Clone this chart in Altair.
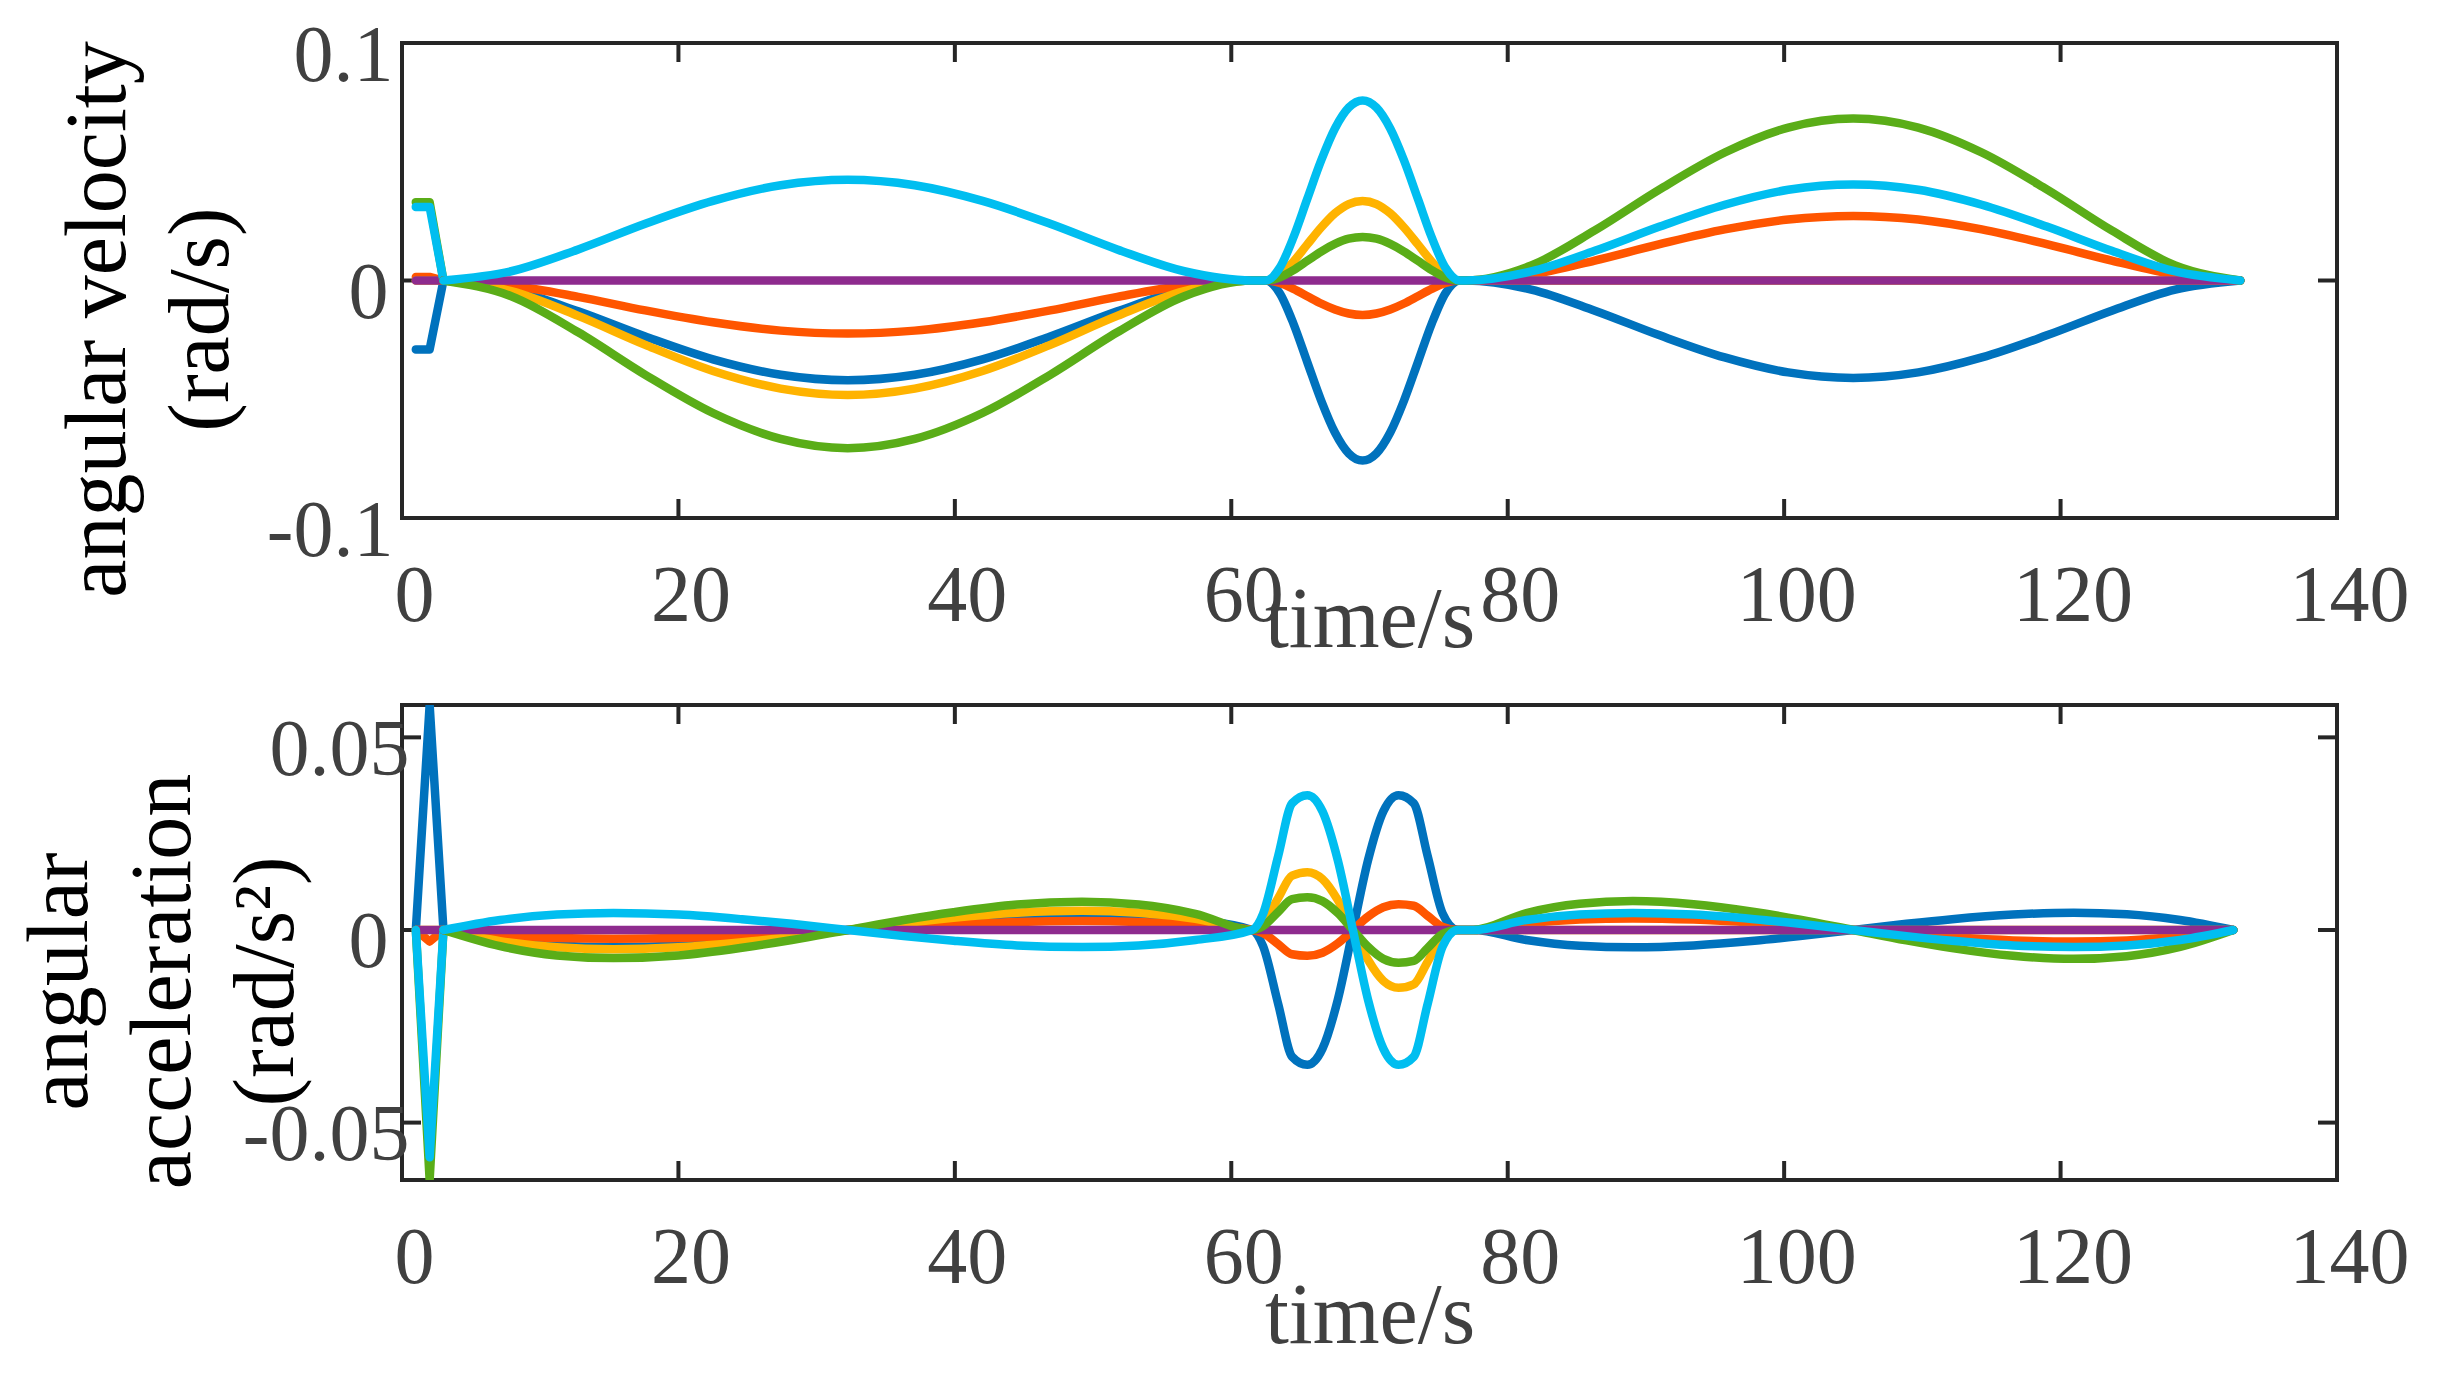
import altair as alt
import pandas as pd

SERIES = ["s1", "s2", "s3", "s4", "s5", "s6"]
COLORS = ["#0072BD", "#FF5500", "#FFB300", "#8E2B8E", "#5AAD18", "#00BEF0"]

X_TICKS = [0, 20, 40, 60, 80, 100, 120, 140]
VEL_TICKS = [-0.1, 0, 0.1]
ACC_TICKS = [-0.05, 0, 0.05]
VEL_DOMAIN = [-0.1, 0.1]
ACC_DOMAIN = [-0.0649, 0.0584]

TIME_VEL = [1, 2, 3, 7.9, 12.75, 17.6, 22.5, 27.4, 32.25, 37.1, 42, 46.9, 51.75, 56.6, 61.5,
            62.5, 63.5, 64.5, 65.5, 66.5, 67.5, 68.5, 69.5, 70.5, 71.5, 72.5, 73.5, 74.5, 75.5, 76.5,
            77, 81.7, 86.3, 91, 95.7, 100.3, 105, 109.7, 114.3, 119, 123.7, 128.3, 133]

VEL_BLUE = [-0.029, -0.029,
            0, -0.0039, -0.0130, -0.0236, -0.0332, -0.0397, -0.0420, -0.0397, -0.0332, -0.0236, -0.0130, -0.0039, 0,
            0, -0.0053, -0.0182, -0.0344, -0.0505, -0.0640, -0.0728, -0.0758, -0.0728, -0.0640, -0.0505, -0.0344, -0.0182, -0.0053, 0,
            0, -0.0038, -0.0127, -0.0231, -0.0324, -0.0387, -0.0410, -0.0387, -0.0324, -0.0231, -0.0127, -0.0038, 0]
VEL_ORANGE = [0.0015, 0.0015,
              0, -0.0021, -0.0069, -0.0126, -0.0176, -0.0211, -0.0223, -0.0211, -0.0176, -0.0126, -0.0069, -0.0021, 0,
              0, -0.0010, -0.0035, -0.0066, -0.0097, -0.0122, -0.0139, -0.0145, -0.0139, -0.0122, -0.0097, -0.0066, -0.0035, -0.0010, 0,
              0, 0.0025, 0.0084, 0.0153, 0.0215, 0.0257, 0.0272, 0.0257, 0.0215, 0.0153, 0.0084, 0.0025, 0]
VEL_YELLOW = [0, 0,
              0, -0.0045, -0.0149, -0.0271, -0.0381, -0.0455, -0.0482, -0.0455, -0.0381, -0.0271, -0.0149, -0.0045, 0,
              0, 0.0023, 0.0080, 0.0152, 0.0223, 0.0283, 0.0322, 0.0335, 0.0322, 0.0283, 0.0223, 0.0152, 0.0080, 0.0023, 0,
              0, 0, 0, 0, 0, 0, 0, 0, 0, 0, 0, 0, 0]
VEL_PURPLE = [0, 0,
              0, 0, 0, 0, 0, 0, 0, 0, 0, 0, 0, 0, 0,
              0, 0, 0, 0, 0, 0, 0, 0, 0, 0, 0, 0, 0, 0, 0,
              0, 0, 0, 0, 0, 0, 0, 0, 0, 0, 0, 0, 0]
VEL_GREEN = [0.033, 0.033,
             0, -0.0066, -0.0218, -0.0397, -0.0558, -0.0667, -0.0706, -0.0667, -0.0558, -0.0397, -0.0218, -0.0066, 0,
             0, 0.0013, 0.0044, 0.0083, 0.0122, 0.0154, 0.0176, 0.0183, 0.0176, 0.0154, 0.0122, 0.0083, 0.0044, 0.0013, 0,
             0, 0.0063, 0.0211, 0.0384, 0.0539, 0.0644, 0.0682, 0.0644, 0.0539, 0.0384, 0.0211, 0.0063, 0]
VEL_CYAN = [0.031, 0.031,
            0, 0.0039, 0.0131, 0.0239, 0.0335, 0.0401, 0.0424, 0.0401, 0.0335, 0.0239, 0.0131, 0.0039, 0,
            0, 0.0053, 0.0182, 0.0344, 0.0505, 0.0640, 0.0728, 0.0758, 0.0728, 0.0640, 0.0505, 0.0344, 0.0182, 0.0053, 0,
            0, 0.0038, 0.0125, 0.0227, 0.0319, 0.0382, 0.0404, 0.0382, 0.0319, 0.0227, 0.0125, 0.0038, 0]

TIME_ACC = [1, 2,
            3, 7.1, 11.2, 15.3, 20.0, 24.6, 28.2, 32.25, 36.3, 39.9, 44.5, 49.2, 53.3, 57.4, 61.5,
            62.3, 63.4, 64.4, 65.5, 66.6, 67.7, 68.8, 69.9, 71.0, 72.1, 73.2, 74.2, 75.3, 76.4,
            77.5, 81.35, 85.2, 89.05, 93.45, 97.85, 101.15, 105, 108.85, 112.15, 116.55, 120.95, 124.8, 128.65, 132.5]

ACC_BLUE = [0, 0.0584,
            0, -0.0026, -0.0040, -0.0044, -0.0040, -0.0028, -0.0016, 0, 0.0016, 0.0028, 0.0040, 0.0044, 0.0040, 0.0026, 0,
            -0.0042, -0.0193, -0.0329, -0.0350, -0.0308, -0.0182, 0, 0.0182, 0.0308, 0.0350, 0.0329, 0.0193, 0.0042, 0,
            0, -0.0026, -0.0041, -0.0045, -0.0040, -0.0028, -0.0016, 0, 0.0016, 0.0028, 0.0040, 0.0045, 0.0041, 0.0026, 0]
ACC_ORANGE = [0, -0.003,
              0, -0.0013, -0.0021, -0.0023, -0.0021, -0.0014, -0.0008, 0, 0.0008, 0.0014, 0.0021, 0.0023, 0.0021, 0.0013, 0,
              -0.0008, -0.0037, -0.0063, -0.0067, -0.0059, -0.0035, 0, 0.0035, 0.0059, 0.0067, 0.0063, 0.0037, 0.0008, 0,
              0, 0.0017, 0.0027, 0.0030, 0.0027, 0.0019, 0.0011, 0, -0.0011, -0.0019, -0.0027, -0.0030, -0.0027, -0.0017, 0]
ACC_YELLOW = [0, 0,
              0, -0.0029, -0.0045, -0.0050, -0.0045, -0.0032, -0.0018, 0, 0.0018, 0.0032, 0.0045, 0.0050, 0.0045, 0.0029, 0,
              0.0018, 0.0083, 0.0141, 0.0150, 0.0132, 0.0078, 0, -0.0078, -0.0132, -0.0150, -0.0141, -0.0083, -0.0018, 0,
              0, 0, 0, 0, 0, 0, 0, 0, 0, 0, 0, 0, 0, 0, 0]
ACC_PURPLE = [0, 0,
              0, 0, 0, 0, 0, 0, 0, 0, 0, 0, 0, 0, 0, 0, 0,
              0, 0, 0, 0, 0, 0, 0, 0, 0, 0, 0, 0, 0, 0,
              0, 0, 0, 0, 0, 0, 0, 0, 0, 0, 0, 0, 0, 0, 0]
ACC_GREEN = [0, -0.0649,
             0, -0.0042, -0.0066, -0.0073, -0.0066, -0.0046, -0.0026, 0, 0.0026, 0.0046, 0.0066, 0.0073, 0.0066, 0.0042, 0,
             0.0010, 0.0047, 0.0080, 0.0085, 0.0075, 0.0044, 0, -0.0044, -0.0075, -0.0085, -0.0080, -0.0047, -0.0010, 0,
             0, 0.0044, 0.0068, 0.0075, 0.0067, 0.0047, 0.0027, 0, -0.0027, -0.0047, -0.0067, -0.0075, -0.0068, -0.0044, 0]
ACC_CYAN = [0, -0.059,
            0, 0.0026, 0.0040, 0.0044, 0.0040, 0.0028, 0.0016, 0, -0.0016, -0.0028, -0.0040, -0.0044, -0.0040, -0.0026, 0,
            0.0042, 0.0193, 0.0329, 0.0350, 0.0308, 0.0182, 0, -0.0182, -0.0308, -0.0350, -0.0329, -0.0193, -0.0042, 0,
            0, 0.0026, 0.0040, 0.0044, 0.0040, 0.0028, 0.0016, 0, -0.0016, -0.0028, -0.0040, -0.0044, -0.0040, -0.0026, 0]

W, H = 1935, 475
FONT = "Liberation Serif"
AXC = "#262626"
LBL = "#404040"
TICK = 19


def long_df(times, series_lists):
    rows = []
    for name, vals in zip(SERIES, series_lists):
        for t, v in zip(times, vals):
            rows.append({"t": t, "v": v, "s": name})
    return pd.DataFrame(rows)


def panel(df, ydomain, yticks, ytitle, title_x, xtitle_y, pad_zero, pad_other):
    xs = alt.Scale(domain=[0, 140], nice=False, zero=False)
    ys = alt.Scale(domain=ydomain, nice=False, zero=False)
    xa = alt.Axis(values=X_TICKS, grid=False, ticks=False, domain=False, tickSize=0,
                  labelFlush=False, labelOverlap=False, labelExpr="'' + datum.value",
                  labelFont=FONT, labelFontSize=80, labelColor=LBL,
                  labelBaseline="alphabetic", labelPadding=102, labelOffset=12,
                  title="time/s", titleFont=FONT, titleFontSize=86, titleFontWeight="normal",
                  titleColor=LBL, titleBaseline="alphabetic", titleAlign="center",
                  titleX=W / 2, titleY=xtitle_y)
    ya = alt.Axis(values=yticks, grid=False, ticks=False, domain=False, tickSize=0,
                  labelOverlap=False, labelExpr="'' + datum.value",
                  labelFont=FONT, labelFontSize=80, labelColor=LBL,
                  labelBaseline="alphabetic", labelAlign="right", labelOffset=37,
                  labelPadding={"condition": {"test": "datum.value === 0", "value": pad_zero},
                                "value": pad_other},
                  title=ytitle, titleFont=FONT, titleFontSize=86, titleFontWeight="normal",
                  titleColor="black", titleAngle=270, titleBaseline="alphabetic",
                  titleAlign="center", titleLineHeight=103, titleX=title_x, titleY=276)
    color = alt.Color("s:N", scale=alt.Scale(domain=SERIES, range=COLORS), legend=None)
    xt = pd.DataFrame({"t": X_TICKS})
    yt = pd.DataFrame({"v": yticks})
    rule = dict(color=AXC, strokeWidth=4)
    yl = alt.Chart(yt).mark_rule(**rule).encode(
        y=alt.Y("v:Q", scale=ys, axis=ya), x=alt.value(0), x2=alt.value(TICK))
    yr = alt.Chart(yt).mark_rule(**rule).encode(
        y=alt.Y("v:Q", scale=ys, axis=ya), x=alt.value(W - TICK), x2=alt.value(W))
    xb = alt.Chart(xt).mark_rule(**rule).encode(
        x=alt.X("t:Q", scale=xs, axis=xa), y=alt.value(H - TICK), y2=alt.value(H))
    xtop = alt.Chart(xt).mark_rule(**rule).encode(
        x=alt.X("t:Q", scale=xs, axis=xa), y=alt.value(0), y2=alt.value(TICK))
    line_style = dict(strokeWidth=8.5, clip=True, strokeCap="round", strokeJoin="round")
    enc = dict(x=alt.X("t:Q", scale=xs, axis=xa), y=alt.Y("v:Q", scale=ys, axis=ya), color=color)
    lin = alt.Chart(df).transform_filter("datum.t <= 3").mark_line(
        interpolate="linear", **line_style).encode(**enc)
    mono = alt.Chart(df).transform_filter("datum.t >= 3").mark_line(
        interpolate="monotone", **line_style).encode(**enc)
    return alt.layer(yl, yr, xb, xtop, lin, mono).properties(width=W, height=H)


vel_df = long_df(TIME_VEL, [VEL_BLUE, VEL_ORANGE, VEL_YELLOW, VEL_PURPLE, VEL_GREEN, VEL_CYAN])
acc_df = long_df(TIME_ACC, [ACC_BLUE, ACC_ORANGE, ACC_YELLOW, ACC_PURPLE, ACC_GREEN, ACC_CYAN])

top = panel(vel_df, VEL_DOMAIN, VEL_TICKS, ["angular velocity", "(rad/s)"], -278, 128, 14, 9)
bottom = panel(acc_df, ACC_DOMAIN, ACC_TICKS, ["angular", "acceleration", "(rad/s\u00b2)"], -316, 162, 14, -7)

chart = alt.vconcat(top, bottom, spacing=187, bounds="flush").properties(
    padding={"left": 7, "top": 6, "right": 10, "bottom": 10},
    background="white",
).configure_view(stroke=AXC, strokeWidth=4)

chart.save("out.html", embed_options={"renderer": "svg", "actions": False})
